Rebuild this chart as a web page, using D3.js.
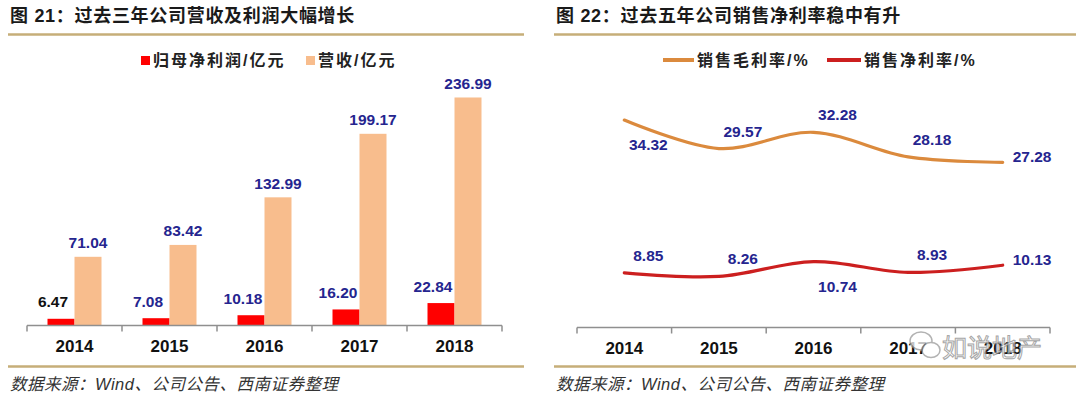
<!DOCTYPE html>
<html>
<head>
<meta charset="utf-8">
<title>营收及利润 / 销售利润率</title>
<script src="https://d3js.org/d3.v7.min.js"></script>
<style>
  body { margin: 0; background: #fff; }
  svg text { font-family: "Liberation Sans", Arial, "Noto Sans CJK SC", sans-serif; }
</style>
</head>
<body>
<script>
// ---- data ----
var years = ["2014", "2015", "2016", "2017", "2018"];
var netProfit = [6.47, 7.08, 10.18, 16.20, 22.84];      // 归母净利润/亿元
var revenue = [71.04, 83.42, 132.99, 199.17, 236.99];   // 营收/亿元
var grossMargin = [34.32, 29.57, 32.28, 28.18, 27.28];  // 销售毛利率/%
var netMargin = [8.85, 8.26, 10.74, 8.93, 10.13];       // 销售净利率/%
var grossPos = ["below", "above", "above", "above", "right"];
var netPos = ["above", "above", "below", "above", "right"];

var width = 1080, height = 397;
var blue = "#25258f", gold = "#c6ae78", axisGrey = "#8f8f8f";

var svg = d3.select("body").append("svg")
    .attr("width", width)
    .attr("height", height);

// ---- frame: titles, gold rules, sources ----
function frame(x0, x1, title) {
  svg.append("text")
     .attr("x", x0 + 2).attr("y", 22)
     .attr("font-size", 18).attr("font-weight", "bold").attr("fill", "#1a1a1a")
     .attr("letter-spacing", 0.7)
     .text(title);
  svg.append("line")
     .attr("x1", x0).attr("x2", x1).attr("y1", 34.5).attr("y2", 34.5)
     .attr("stroke", gold).attr("stroke-width", 2.5);
  svg.append("line")
     .attr("x1", x0).attr("x2", x1).attr("y1", 366.5).attr("y2", 366.5)
     .attr("stroke", gold).attr("stroke-width", 2.5);
  svg.append("text")
     .attr("x", x0 + 2).attr("y", 390)
     .attr("font-size", 16.5).attr("font-style", "italic").attr("fill", "#333")
     .attr("letter-spacing", 0.5)
     .text("数据来源：Wind、公司公告、西南证券整理");
}
frame(8, 524, "图 21：过去三年公司营收及利润大幅增长");
frame(554, 1076, "图 22：过去五年公司销售净利率稳中有升");

// ---- shared axis helper (ticks between categories) ----
function drawAxis(x, y0) {
  var g = svg.append("g").attr("transform", "translate(0," + y0 + ")");
  g.call(d3.axisBottom(x).tickSize(0).tickPadding(14))
   .call(function(s) { s.select(".domain").remove(); });
  g.selectAll(".tick text")
   .attr("font-size", 17).attr("font-weight", "bold").attr("fill", "#111")
   .attr("font-family", "\"Liberation Sans\", Arial, sans-serif");
  g.append("line")
   .attr("x1", x.range()[0]).attr("x2", x.range()[1])
   .attr("stroke", axisGrey).attr("stroke-width", 1.5);
  var edges = x.domain().map(function(d) { return x(d); }).concat([x.range()[1]]);
  g.selectAll(".edge").data(edges).enter().append("line")
   .attr("class", "edge")
   .attr("x1", function(d) { return d; }).attr("x2", function(d) { return d; })
   .attr("y1", 0).attr("y2", 6)
   .attr("stroke", axisGrey).attr("stroke-width", 1.5);
}

// ================= Chart 21: bars =================
var xL = d3.scaleBand().domain(years).range([27, 502]);
var yL = d3.scaleLinear().domain([0, 250]).range([325, 85]);
var barW = 27;

// legend
svg.append("rect").attr("x", 141).attr("y", 56).attr("width", 9).attr("height", 9).attr("fill", "#ff0000");
svg.append("text").attr("x", 153).attr("y", 66).attr("font-size", 16).attr("letter-spacing", 2)
   .attr("font-weight", "bold").attr("fill", "#222").text("归母净利润/亿元");
svg.append("rect").attr("x", 306).attr("y", 56).attr("width", 9).attr("height", 9).attr("fill", "#f8bd8d");
svg.append("text").attr("x", 318).attr("y", 66).attr("font-size", 16).attr("letter-spacing", 2)
   .attr("font-weight", "bold").attr("fill", "#222").text("营收/亿元");

function cx(d) { return xL(d) + xL.bandwidth() / 2; }

svg.selectAll(".profit").data(netProfit).enter().append("rect")
   .attr("class", "profit")
   .attr("x", function(d, i) { return cx(years[i]) - barW; })
   .attr("y", function(d) { return yL(d); })
   .attr("width", barW)
   .attr("height", function(d) { return yL(0) - yL(d); })
   .attr("fill", "#ff0000");

svg.selectAll(".rev").data(revenue).enter().append("rect")
   .attr("class", "rev")
   .attr("x", function(d, i) { return cx(years[i]); })
   .attr("y", function(d) { return yL(d); })
   .attr("width", barW)
   .attr("height", function(d) { return yL(0) - yL(d); })
   .attr("fill", "#f8bd8d");

svg.selectAll(".profitLbl").data(netProfit).enter().append("text")
   .attr("x", function(d, i) { return cx(years[i]) - barW / 2 - 8; })
   .attr("y", function(d) { return yL(d) - 11.5; })
   .attr("text-anchor", "middle")
   .attr("font-size", 15.5).attr("font-weight", "bold")
   .attr("fill", function(d, i) { return i === 0 ? "#111" : blue; })
   .text(function(d) { return d.toFixed(2); });

svg.selectAll(".revLbl").data(revenue).enter().append("text")
   .attr("x", function(d, i) { return cx(years[i]) + barW / 2; })
   .attr("y", function(d) { return yL(d) - 8.5; })
   .attr("text-anchor", "middle")
   .attr("font-size", 15.5).attr("font-weight", "bold")
   .attr("fill", blue)
   .text(function(d) { return d.toFixed(2); });

drawAxis(xL, 325.5);

// ================= Chart 22: lines =================
var xR = d3.scaleBand().domain(years).range([577, 1050]);
var yR = d3.scaleLinear().domain([0, 40]).range([326, 86]);
function rx(d) { return xR(d) + xR.bandwidth() / 2; }

var orange = "#db8a3d", red = "#cc1f1f";

// legend
svg.append("line").attr("x1", 663).attr("x2", 694).attr("y1", 60).attr("y2", 60)
   .attr("stroke", orange).attr("stroke-width", 4);
svg.append("text").attr("x", 697).attr("y", 66).attr("font-size", 16).attr("letter-spacing", 2)
   .attr("font-weight", "bold").attr("fill", "#222").text("销售毛利率/%");
svg.append("line").attr("x1", 827).attr("x2", 861).attr("y1", 60).attr("y2", 60)
   .attr("stroke", red).attr("stroke-width", 4);
svg.append("text").attr("x", 864).attr("y", 66).attr("font-size", 16).attr("letter-spacing", 2)
   .attr("font-weight", "bold").attr("fill", "#222").text("销售净利率/%");

var line = d3.line()
    .x(function(d, i) { return rx(years[i]); })
    .y(function(d) { return yR(d); })
    .curve(d3.curveCardinal.tension(0));

[[grossMargin, orange, grossPos], [netMargin, red, netPos]].forEach(function(s) {
  svg.append("path").datum(s[0])
     .attr("d", line)
     .attr("fill", "none")
     .attr("stroke", s[1])
     .attr("stroke-width", 3.2)
     .attr("stroke-linecap", "round");

  svg.selectAll(null).data(s[0]).enter().append("text")
     .attr("x", function(d, i) {
       var p = s[2][i];
       return rx(years[i]) + (p === "right" ? 10 : 24);
     })
     .attr("y", function(d, i) {
       var p = s[2][i];
       var off = p === "above" ? -12 : p === "below" ? 30 : 0;
       return yR(d) + off;
     })
     .attr("text-anchor", function(d, i) { return s[2][i] === "right" ? "start" : "middle"; })
     .attr("font-size", 15.5).attr("font-weight", "bold")
     .attr("fill", blue)
     .text(function(d) { return d.toFixed(2); });
});

drawAxis(xR, 327.5);

// watermark
var wm = svg.append("g").attr("opacity", 0.75);
wm.append("ellipse").attr("cx", 921).attr("cy", 341).attr("rx", 11).attr("ry", 9)
  .attr("fill", "#fff").attr("stroke", "#999").attr("stroke-width", 1.5);
wm.append("ellipse").attr("cx", 931).attr("cy", 350).attr("rx", 9).attr("ry", 7.5)
  .attr("fill", "#fff").attr("stroke", "#999").attr("stroke-width", 1.5);
wm.append("text").attr("x", 942).attr("y", 357)
  .attr("font-size", 25).attr("fill", "#fff").attr("stroke", "#888").attr("stroke-width", 1)
  .attr("font-family", "\"Noto Sans CJK SC\", sans-serif")
  .text("如说地产");
</script>
</body>
</html>
